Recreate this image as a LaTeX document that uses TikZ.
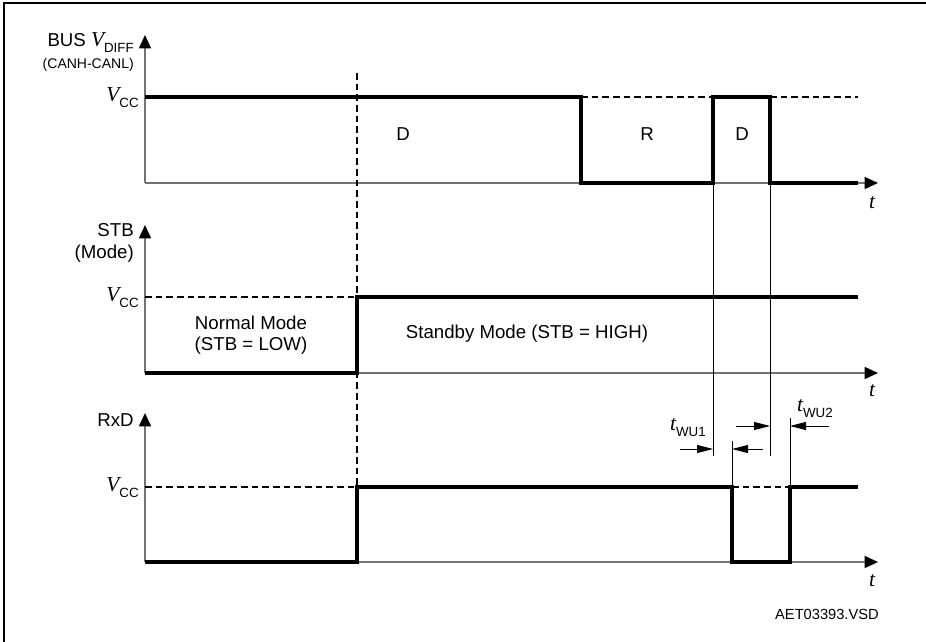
\documentclass[tikz,border=0pt]{standalone}
\usepackage{fontspec}
\setmainfont{Liberation Sans}
\newfontfamily\symfont{Liberation Serif}
\usetikzlibrary{arrows.meta}

% symbol with a sans subscript
\newcommand{\sig}[2]{{\symfont\itshape\fontsize{16}{16}\selectfont #1}\raisebox{-4.5pt}{\fontsize{10}{10}\selectfont #2}}
\newcommand{\tsym}{{\symfont\itshape\fontsize{16}{16}\selectfont t}}

\tikzset{
  axis/.style={draw=black!55, line width=1.1pt, -{Triangle[length=10pt,width=9pt,color=black]}},
  signal/.style={line width=2.8pt, line join=miter},
  guide/.style={line width=1.1pt, dash pattern=on 5pt off 3pt},
  thinline/.style={line width=0.7pt},
  dimarrow/.style={line width=0.7pt, -{Triangle[length=12pt,width=6pt]}},
  lbl/.style={inner sep=0pt}
}

\begin{document}
\begin{tikzpicture}[x=0.75pt, y=-0.75pt, font=\fontsize{14}{16}\selectfont]
  \useasboundingbox (0,0) rectangle (926,642);
  \draw[line width=1.6pt] (4,642) -- (4,3) -- (926,3);

  % bus
  \draw[axis] (145,183) -- (145,35);
  \draw[axis] (145,183) -- (878,183);
  \draw[signal] (145,97) -- (581,97) -- (581,183) -- (713,183) -- (713,97) -- (770,97) -- (770,183) -- (858,183);
  \draw[guide] (581,97) -- (713,97) (770,97) -- (858,97);
  \node[lbl, anchor=east] (bus) at (134,43) {BUS \sig{V}{DIFF}};
  \node[lbl, anchor=east, font=\fontsize{10.5}{12}\selectfont] (canh) at (134,65) {(CANH-CANL)};
  \node[lbl, anchor=east] (vcc1) at (139,98) {\sig{V}{CC}};
  \node[lbl] (dom1) at (403,134) {D};
  \node[lbl] (rec) at (647,134) {R};
  \node[lbl] (dom2) at (742,134) {D};
  \node[lbl] (t1) at (872,203) {\tsym};

  % stb
  \draw[axis] (145,373) -- (145,225);
  \draw[axis] (145,373) -- (878,373);
  \draw[signal] (145,373) -- (357,373) -- (357,297) -- (858,297);
  \draw[guide] (145,297) -- (357,297);
  \node[lbl, anchor=east, align=right] (stb) at (134,243) {STB\\[1pt](Mode)};
  \node[lbl, anchor=east] (vcc2) at (139,298) {\sig{V}{CC}};
  \node[lbl, align=center] (normal) at (251,335) {Normal Mode\\[0pt](STB = LOW)};
  \node[lbl] (standby) at (527,334) {Standby Mode (STB = HIGH)};
  \node[lbl] (t2) at (872,391) {\tsym};

  % rxd
  \draw[axis] (145,562) -- (145,413);
  \draw[axis] (145,562) -- (878,562);
  \draw[signal] (145,562) -- (357,562) -- (357,487) -- (732,487) -- (732,562) -- (790,562) -- (790,487) -- (858,487);
  \draw[guide] (145,487) -- (357,487) (732,487) -- (790,487);
  \node[lbl, anchor=east] (rxd) at (134,420) {RxD};
  \node[lbl, anchor=east] (vcc3) at (139,488) {\sig{V}{CC}};
  \node[lbl] (t3) at (872,581) {\tsym};

  % mode change
  \draw[guide] (357,73) -- (357,487);

  % wake-up times
  \draw[thinline] (713,183) -- (713,456);
  \draw[thinline] (770,183) -- (770,456);
  \draw[thinline] (732,441) -- (732,487);
  \draw[thinline] (790,418) -- (790,487);
  \coordinate (wua) at (680,449);
  \coordinate (wub) at (713,449);
  \coordinate (wuc) at (763,449);
  \coordinate (wud) at (732,449);
  \coordinate (wue) at (736,426);
  \coordinate (wuf) at (770,426);
  \coordinate (wug) at (829,426);
  \coordinate (wuh) at (790,426);
  \draw[dimarrow] (wua) -- (wub);
  \draw[dimarrow] (wuc) -- (wud);
  \draw[dimarrow] (wue) -- (wuf);
  \draw[dimarrow] (wug) -- (wuh);
  \node[lbl] (twu1) at (688,428) {\sig{t}{WU1}};
  \node[lbl] (twu2) at (815,409) {\sig{t}{WU2}};

  \node[lbl, anchor=east, font=\fontsize{11}{13}\selectfont] (code) at (879,614) {AET03393.VSD};
\end{tikzpicture}
\end{document}
